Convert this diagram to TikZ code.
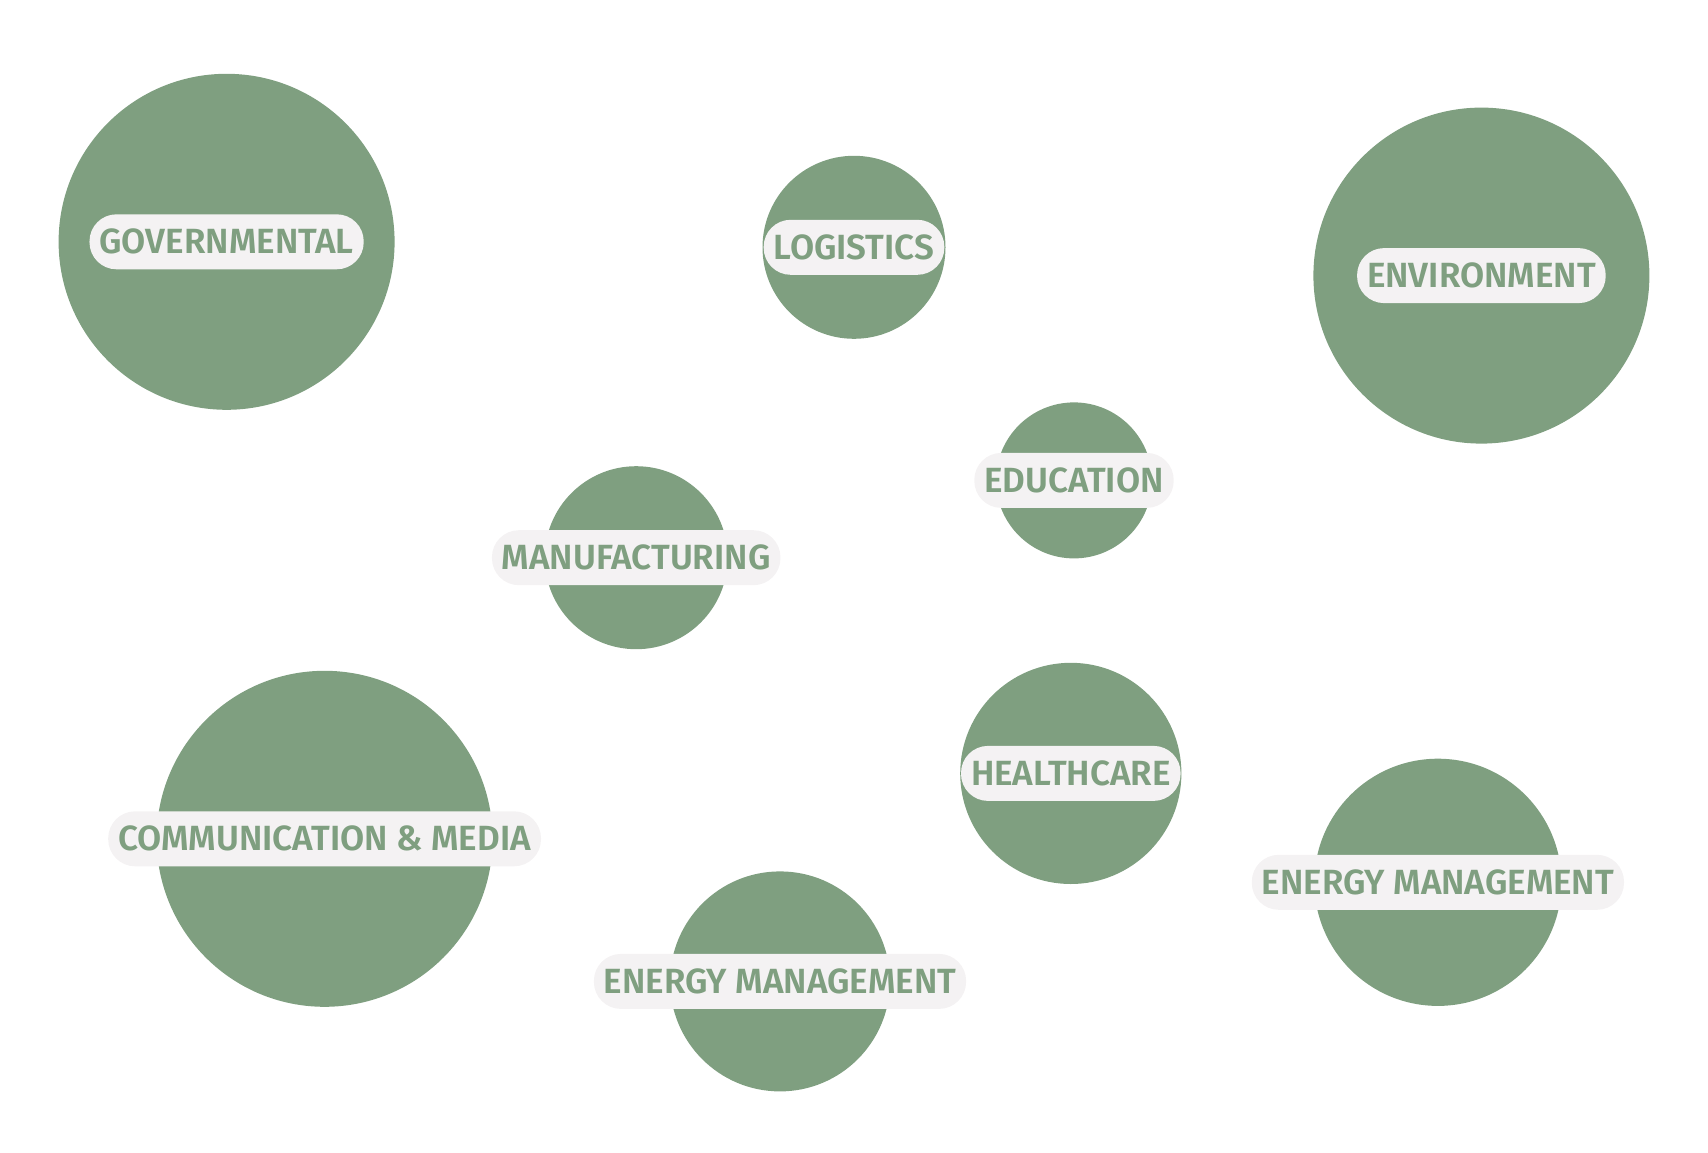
\documentclass[tikz,border=0pt]{standalone}
\usepackage{fontspec}
\newfontfamily\tagfont{Fira Sans}[UprightFont=* SemiBold]
\usepackage{tikz}
\usetikzlibrary{positioning}
\usepackage{xcolor}
\definecolor{sage}{HTML}{7F9F80}
\definecolor{pillgray}{HTML}{F4F2F3}

\begin{document}
\begin{tikzpicture}[x=1pt, y=-1pt,
    bubble/.style={circle, fill=sage, inner sep=0pt, minimum size=#1},
    tag/.style={fill=pillgray, text=sage, rounded corners=27pt, inner xsep=10pt,
        inner ysep=0pt, minimum height=55pt, font=\tagfont\fontsize{35}{40}\selectfont}]
    % Fondo
    \useasboundingbox (0,0) rectangle (1708,1153);
    % Burbujas
    \foreach \n/\x/\y/\r/\t in {gov/226.6/241.8/168/GOVERNMENTAL,
        log/854/247.3/91.5/LOGISTICS,
        env/1481.4/275.6/168/ENVIRONMENT,
        edu/1074/480.4/78/EDUCATION,
        man/636.2/557.7/91.5/MANUFACTURING,
        com/324.6/838.8/168/COMMUNICATION \& MEDIA,
        hea/1070.8/773.4/110.6/HEALTHCARE,
        emr/1437.9/882.3/123.6/ENERGY MANAGEMENT,
        emb/780/981.4/110/ENERGY MANAGEMENT} {
        \node[bubble=2*\r pt] (\n) at (\x,\y) {};
        \node[tag] (\n-tag) at (\n.center) {\t};
    }
\end{tikzpicture}
\end{document}
